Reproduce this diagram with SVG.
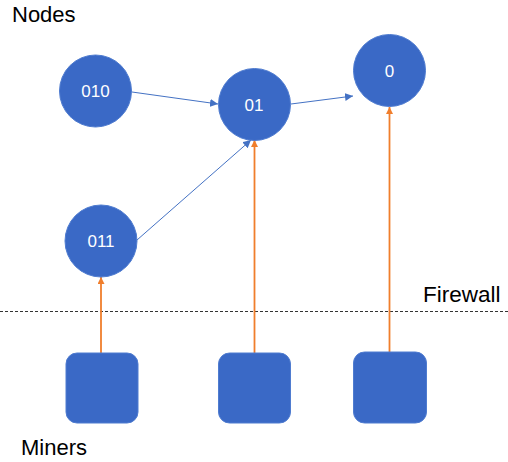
<svg xmlns="http://www.w3.org/2000/svg" width="508" height="462" viewBox="0 0 508 462">
<style>
.node{fill:#3A69C6;stroke:#4F7CD0;stroke-width:1}
.lbl{font-family:"Liberation Sans",Arial,sans-serif;font-size:17px;fill:#FFFFFF;text-anchor:middle}
.title{font-family:"Liberation Sans",Arial,sans-serif;font-size:22px;fill:#000000}
.blue{stroke:#4472C4;stroke-width:1;fill:none;marker-end:url(#ab)}
.orange{stroke:#F07E2C;stroke-width:1.8;fill:none;marker-end:url(#ao)}
</style>
<defs>
<marker id="ab" viewBox="0 0 10 10" refX="10" refY="5" markerWidth="8" markerHeight="8" markerUnits="userSpaceOnUse" orient="auto">
<path d="M0,0 L10,5 L0,10 z" fill="#4472C4"/>
</marker>
<marker id="ao" viewBox="0 0 10 10" refX="10" refY="5" markerWidth="7" markerHeight="7" markerUnits="userSpaceOnUse" orient="auto">
<path d="M0,0 L10,5 L0,10 z" fill="#F07E2C"/>
</marker>
</defs>
<rect width="508" height="462" fill="#FFFFFF"/>
<text class="title" x="12" y="22">Nodes</text>
<text class="title" x="423" y="302" style="font-size:22.5px">Firewall</text>
<text class="title" x="21" y="455">Miners</text>
<line x1="0" y1="311.5" x2="508" y2="311.5" stroke="#333333" stroke-width="1" stroke-dasharray="3,2"/>
<g id="connectors">
<line class="blue" x1="132" y1="92" x2="218" y2="104"/>
<line class="blue" x1="291" y1="104" x2="353" y2="96"/>
<line class="blue" x1="137" y1="240" x2="251" y2="140"/>
<line class="orange" x1="101" y1="353" x2="101" y2="277"/>
<line class="orange" x1="254.5" y1="353" x2="254.5" y2="140"/>
<line class="orange" x1="389.5" y1="352" x2="389.5" y2="107"/>
</g>
<g id="n010"><circle class="node" cx="95.5" cy="91" r="36"/><text class="lbl" x="95.5" y="97">010</text></g>
<g id="n01"><circle class="node" cx="254.5" cy="104.5" r="36"/><text class="lbl" x="254" y="111">01</text></g>
<g id="n0"><circle class="node" cx="389.5" cy="70.5" r="36"/><text class="lbl" x="389.5" y="76.5">0</text></g>
<g id="n011"><circle class="node" cx="101" cy="241" r="36"/><text class="lbl" x="101" y="247">011</text></g>
<g id="m1"><rect class="node" x="66" y="353" width="72" height="70" rx="11"/></g>
<g id="m2"><rect class="node" x="218.5" y="353" width="72" height="70" rx="11"/></g>
<g id="m3"><rect class="node" x="353.5" y="352" width="73" height="71" rx="11"/></g>
</svg>
